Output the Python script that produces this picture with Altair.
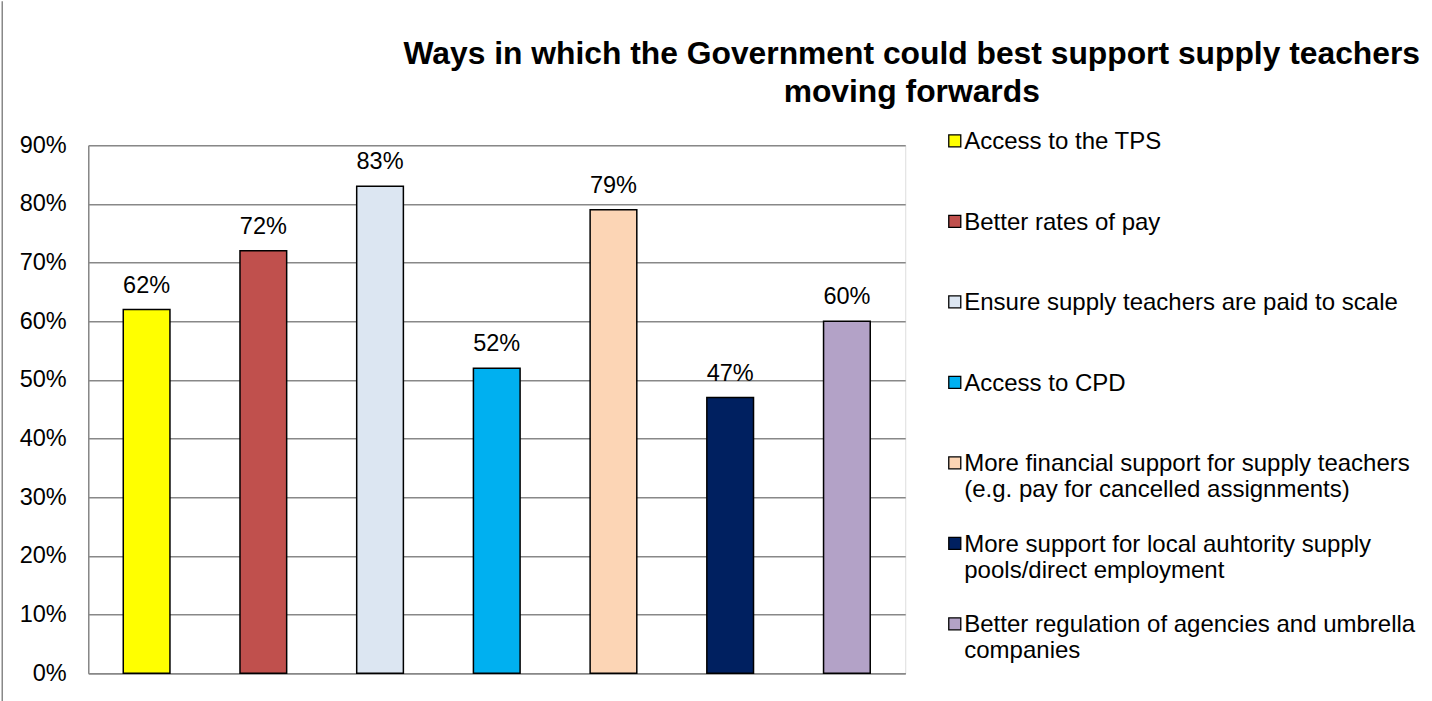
import altair as alt
import pandas as pd

categories = [
    "Access to the TPS",
    "Better rates of pay",
    "Ensure supply teachers are paid to scale",
    "Access to CPD",
    "More financial support for supply teachers|(e.g. pay for cancelled assignments)",
    "More support for local auhtority supply|pools/direct employment",
    "Better regulation of agencies and umbrella|companies",
]
values = [0.62, 0.72, 0.83, 0.52, 0.79, 0.47, 0.60]
colors = ["#FFFF00", "#C0504D", "#DCE6F2", "#00B0F0", "#FCD5B5", "#002060", "#B3A2C7"]
y_ticks = [0, 0.1, 0.2, 0.3, 0.4, 0.5, 0.6, 0.7, 0.8, 0.9]
title_lines = ["Ways in which the Government could best support supply teachers", "moving forwards"]

df = pd.DataFrame({"category": categories, "value": values})

FONT = "Liberation Sans"
GRID = "#888888"

x_enc = alt.X("category:N", sort=categories,
              scale=alt.Scale(paddingInner=0.6, paddingOuter=0.3),
              axis=alt.Axis(title=None, labels=False, ticks=False, domain=True,
                            domainColor=GRID, domainWidth=1.5, grid=False))
y_enc = alt.Y("value:Q", scale=alt.Scale(domain=[0, 0.9], nice=False, zero=True),
              axis=alt.Axis(title=None, values=y_ticks, format=".0%", ticks=False,
                            domainColor=GRID, domainWidth=1.5, gridColor=GRID,
                            gridWidth=1.5, labelPadding=22, labelFontSize=23.5,
                            labelColor="black", labelFont=FONT))

legend = alt.Legend(
    title=None, orient="none", legendX=852, legendY=-8,
    symbolType="M-0.58,-2.4L1.42,-2.4L1.42,-0.4L-0.58,-0.4Z", symbolSize=144,
    symbolStrokeColor="black", symbolStrokeWidth=1.3,
    labelFontSize=24, labelFont=FONT, labelColor="black",
    labelBaseline="alphabetic", labelOffset=0, labelLimit=600,
    rowPadding=30.5,
    labelExpr="split(indexof(datum.label, '|') < 0 ? datum.label + '|' : datum.label, '|')",
)

bars = alt.Chart(df).mark_bar(stroke="black", strokeWidth=1.5).encode(
    x=x_enc, y=y_enc,
    color=alt.Color("category:N", sort=categories,
                    scale=alt.Scale(domain=categories, range=colors), legend=legend),
)

labels = alt.Chart(df).mark_text(dy=-17, baseline="alphabetic", fontSize=23.5,
                                 font=FONT, color="black").encode(
    x=alt.X("category:N", sort=categories),
    y="value:Q",
    text=alt.Text("value:Q", format=".0%"),
)

frame = alt.Chart(pd.DataFrame({"k": [0]})).mark_rule(color=GRID, strokeWidth=1.5).encode(
    x=alt.value(-86), y=alt.value(-144), y2=alt.value(556)
)

chart = alt.layer(frame, bars, labels).properties(
    width=817, height=528,
    title=alt.TitleParams(text=title_lines, font=FONT, fontSize=31.8, fontWeight="bold",
                          color="black", anchor="middle", frame="group", dx=415,
                          offset=-108, lineHeight=37.5),
    padding={"left": 1.25, "top": 0.25, "right": 5, "bottom": 0},
).configure_view(stroke=None).configure(font=FONT)

chart.save("out.html", embed_options={"renderer": "svg", "actions": False})
